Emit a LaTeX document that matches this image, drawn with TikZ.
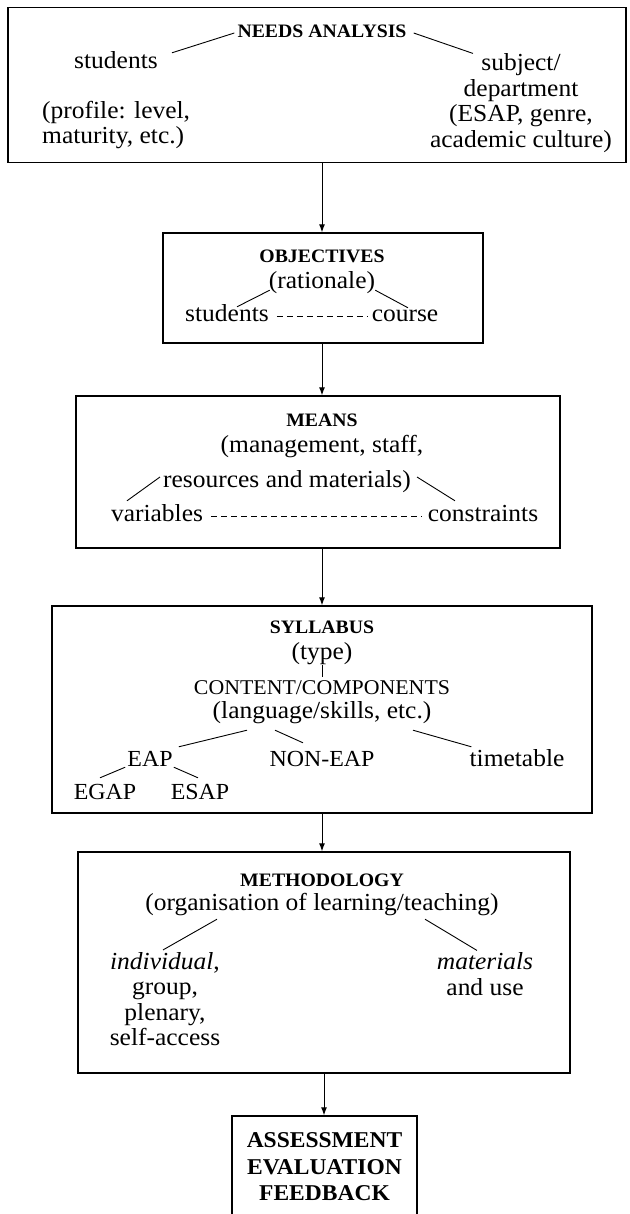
\documentclass[tikz,border=0pt]{standalone}
\usepackage{fontspec}
\setmainfont{Liberation Serif}[FakeStretch=1.04]
\usetikzlibrary{arrows.meta}
\begin{document}
\begin{tikzpicture}[x=1pt,y=-1pt,
  box/.style={draw, line width=1.4pt, inner sep=0pt},
  body/.style={font=\fontsize{24.5}{25}\selectfont, inner sep=0pt, text height=17pt, text depth=5pt},
  caps/.style={font=\fontsize{23}{25}\selectfont, inner sep=0pt, text height=17pt, text depth=5pt},
  multi/.style={font=\fontsize{24.5}{25.5}\selectfont, inner sep=0pt, align=center},
  head/.style={font=\fontsize{19}{22}\selectfont\bfseries, inner sep=0pt, text height=13pt, text depth=0pt},
  link/.style={line width=0.9pt},
  dotted line/.style={line width=0.9pt, dash pattern=on 6pt off 4pt},
  flow/.style={line width=1pt, -{Latex[length=8pt,width=6pt]}}]
\useasboundingbox (0,0) rectangle (629,1214);

% boxes
\node[box, minimum width=618pt, minimum height=155pt] (b1) at (317,85) {};
\node[box, minimum width=320pt, minimum height=110pt] (b2) at (323,288) {};
\node[box, minimum width=484pt, minimum height=152pt] (b3) at (318,472) {};
\node[box, minimum width=540pt, minimum height=207pt] (b4) at (322,709.5) {};
\node[box, minimum width=492pt, minimum height=221pt] (b5) at (324,962.5) {};
\node[box, minimum width=185pt, minimum height=112pt] (b6) at (324.5,1172) {};

\coordinate (ax) at (322,0);
\coordinate (ax2) at (324,0);

% box 1
\node[head] (na) at (322,31) {NEEDS ANALYSIS};
\node[body] (st1) at (116,63) {students};
\node[multi, align=left, anchor=west] (prof) at (42,125) {(profile: level,\\maturity, etc.)};
\node[multi] (subj) at (521,103) {subject/\\department\\(ESAP, genre,\\academic culture)};
\draw[link] ([shift={(-3,2)}]na.west) -- ([shift={(14,1)}]st1.north east);
\draw[link] ([shift={(7,2)}]na.east) -- ([shift={(-48,0)}]subj.north);

% box 2
\node[head] (obj) at (322,256) {OBJECTIVES};
\node[body] (rat) at (322,282) {(rationale)};
\node[body] (st2) at (227,315) {students};
\node[body] (co) at (405,315) {course};
\draw[link] ([shift={(1,-3)}]rat.south west) -- ([shift={(10,3)}]st2.north);
\draw[link] ([shift={(0,-3)}]rat.south east) -- ([shift={(3,4)}]co.north);
\draw[dotted line] ([shift={(8,1)}]st2.east) -- ([shift={(-4,1)}]co.west);

% box 3
\node[head] (me) at (322,420) {MEANS};
\node[body] (mg) at (322,446) {(management, staff,};
\node[body] (rs) at (287,481) {resources and materials)};
\node[body] (va) at (157,515) {variables};
\node[body] (cn) at (483,515) {constraints};
\draw[link] ([shift={(-3,-4)}]rs.west) -- ([shift={(-30,-3)}]va.north);
\draw[link] ([shift={(6,-4)}]rs.east) -- ([shift={(-28,-3)}]cn.north);
\draw[dotted line] ([shift={(8,1)}]va.east) -- ([shift={(-6,1)}]cn.west);

% box 4
\node[head] (sy) at (322,627) {SYLLABUS};
\node[body] (ty) at (322,653) {(type)};
\node[body, font=\fontsize{21}{25}\selectfont] (cc) at (322,688) {CONTENT/COMPONENTS};
\node[body] (lg) at (322,712) {(language/skills, etc.)};
\node[caps] (eap) at (150,760) {EAP};
\node[caps] (neap) at (322,760) {NON-EAP};
\node[body] (tt) at (517,760) {timetable};
\node[caps] (egap) at (105,793) {EGAP};
\node[caps] (esap) at (200,793) {ESAP};
\draw[link] ([shift={(0,1)}]ty.south) -- (cc.north);
\draw[link] ([shift={(-75,7)}]lg.south) -- ([shift={(6,-2)}]eap.north east);
\draw[link] ([shift={(-47,7)}]lg.south) -- ([shift={(-19,-6)}]neap.north);
\draw[link] ([shift={(91,7)}]lg.south) -- ([shift={(2,-2)}]tt.north west);
\draw[link] ([shift={(-2,-4)}]eap.south west) -- ([shift={(-5,-4)}]egap.north);
\draw[link] ([shift={(1,-4)}]eap.south east) -- ([shift={(-2,-4)}]esap.north);

% box 5
\node[head] (mt) at (322,880) {METHODOLOGY};
\node[body] (org) at (322,904) {(organisation of learning/teaching)};
\node[multi] (ind) at (165,999) {\textit{individual},\\group,\\plenary,\\self-access};
\node[multi] (mat) at (485,974) {\textit{materials}\\and use};
\draw[link] ([shift={(-105,4)}]org.south) -- ([shift={(-2,-2)}]ind.north);
\draw[link] ([shift={(103,4)}]org.south) -- ([shift={(-8,-2)}]mat.north);

% box 6
\node[font=\fontsize{22.6}{26.5}\selectfont\bfseries, align=center, inner sep=0pt] (ae) at (324.5,1167) {ASSESSMENT\\EVALUATION\\FEEDBACK};

% flow arrows
\draw[flow] (b1.south -| ax) -- (b2.north -| ax);
\draw[flow] (b2.south -| ax) -- (b3.north -| ax);
\draw[flow] (b3.south -| ax) -- (b4.north -| ax);
\draw[flow] (b4.south -| ax) -- (b5.north -| ax);
\draw[flow] (b5.south -| ax2) -- (b6.north -| ax2);
\end{tikzpicture}
\end{document}
